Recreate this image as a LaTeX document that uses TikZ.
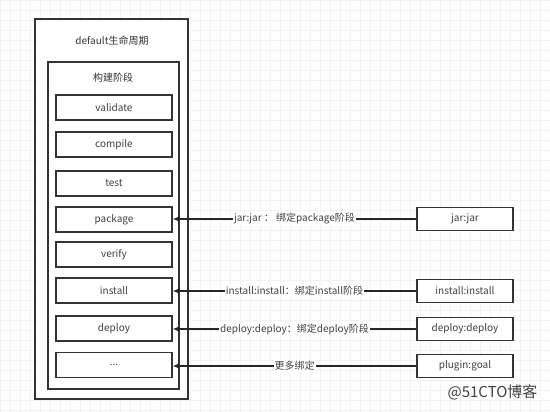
\documentclass[tikz,border=0pt]{standalone}
\usepackage{fontspec}
\setmainfont{Noto Sans CJK SC}
\usetikzlibrary{arrows.meta}
\begin{document}
\begin{tikzpicture}[x=1pt,y=-1pt,
  frame/.style={draw=black!80, line width=1.3pt, fill=white, inner sep=0pt},
  box/.style={draw=black!80, line width=1.3pt, fill=white, minimum width=116pt, minimum height=25pt, inner sep=0pt, font=\fontsize{10}{12}\selectfont, text=black!75},
  plug/.style={box, minimum width=96pt, minimum height=23pt},
  title/.style={font=\fontsize{10}{12}\selectfont, text=black!80},
  link/.style={draw=black!85, line width=1.2pt, -{Latex[length=7pt,width=6pt]}},
  lab/.style={fill=white, inner sep=1pt, font=\fontsize{10}{12}\selectfont, text=black!75}]
\useasboundingbox (0,0) rectangle (550,412);
\fill[white] (0,0) rectangle (550,412);
\draw[black!5, step=10pt] (0,0) grid (550,412);
% containers
\node[frame, minimum width=153pt, minimum height=380pt] (outer) at (111.5,209) {};
\node[title] (outertitle) at (112,40.5) {default生命周期};
\node[frame, minimum width=131pt, minimum height=327pt] (inner) at (113.5,225.5) {};
\node[title] (innertitle) at (113,77.5) {构建阶段};
% phases
\node[box] (validate) at (114,107.5) {validate};
\node[box] (compile) at (114,144.5) {compile};
\node[box] (test) at (114,183.5) {test};
\node[box] (package) at (114,219.5) {package};
\node[box] (verify) at (114,254.5) {verify};
\node[box] (install) at (114,290.5) {install};
\node[box] (deploy) at (114,328.5) {deploy};
\node[box] (more) at (114,365) {...};
% plugins
\node[plug] (jar) at (465,219) {jar:jar};
\node[plug] (inst) at (465,291) {install:install};
\node[plug] (dep) at (465,329) {deploy:deploy};
\node[plug] (goal) at (465,366) {plugin:goal};
% links
\draw[link] (jar.west) -- node[lab] {jar:jar ： 绑定package阶段} (jar.west -| package.east);
\draw[link] (inst.west) -- node[lab] {install:install：绑定install阶段} (inst.west -| install.east);
\draw[link] (dep.west) -- node[lab] {deploy:deploy：绑定deploy阶段} (dep.west -| deploy.east);
\draw[link] (goal.west) -- node[lab] {更多绑定} (goal.west -| more.east);
% watermark
\node[font=\fontsize{15}{17}\selectfont, text=black!75, anchor=east] (wm) at (541,392) {@51CTO博客};
\end{tikzpicture}
\end{document}
